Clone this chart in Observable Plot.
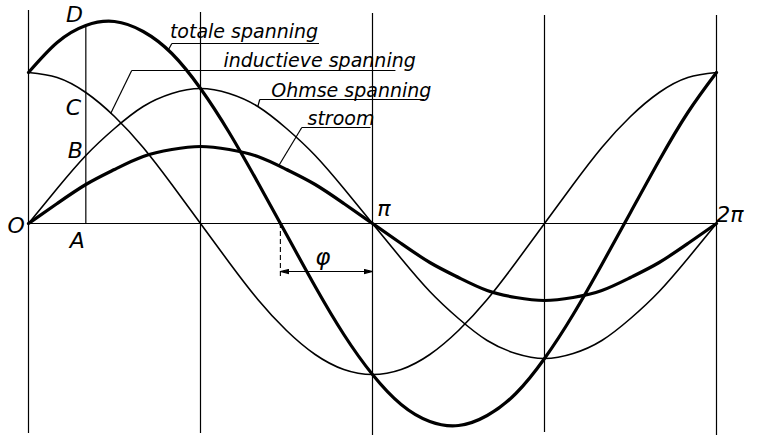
<!DOCTYPE html>
<html>
<head>
<meta charset="utf-8">
<script src="https://cdn.jsdelivr.net/npm/d3@7"></script>
<script src="https://cdn.jsdelivr.net/npm/@observablehq/plot@0.6"></script>
<style>
  html, body { margin: 0; padding: 0; background: white; }
  svg { display: block; }
</style>
</head>
<body>
<div id="chart"></div>
<script>
// angle in degrees (0 .. 2π)
const angles = [0,15,30,45,60,75,90,105,120,135,150,165,180,195,210,225,240,255,270,285,300,315,330,345,360];
// values (same vertical units for all curves)
const stroom     = [0,20,39,54,67,74,77,74,67,54,39,20,0,-20,-39,-54,-67,-74,-77,-74,-67,-54,-39,-20,0];
const ohmse      = [0,35,68,95,117,130,135,130,117,95,68,35,0,-35,-68,-95,-117,-130,-135,-130,-117,-95,-68,-35,0];
const inductief  = [151,146,131,107,76,39,0,-39,-76,-107,-131,-146,-151,-146,-131,-107,-76,-39,0,39,76,107,131,146,151];
const totaal     = [151,181,198,202,192,170,135,91,41,-11,-63,-111,-151,-181,-198,-202,-192,-170,-135,-91,-41,11,63,111,151];

// series labels with underline and leader line
const seriesLabels = ["totale spanning","inductieve spanning","Ohmse spanning","stroom"];
const labelX = [74, 102, 127, 146];
const labelY = [192, 163, 133, 105];
const underlineX1 = [75, 54, 121, 143];
const underlineX2 = [152, 192, 207, 179];
const underlineY = [180, 153, 124, 96];
const leaderX = [73, 43, 120, 131];
const leaderY = [173, 110, 117, 58];

// point labels
const pointLabels = ["O","A","B","C","D","π","2π"];
const pointX = [-6.5, 25.5, 24.5, 23.5, 24, 186, 367];
const pointY = [-2, -17, 73, 116, 209, 15, 9];

// vertical construction lines
const gridX = [0, 90, 180, 270, 360];
const gridTop = [213, 211, 210, 208, 208];
const gridBottom = [-210, -210, -212, -209, -212];
const lineA = 30;
const phiAngle = 131.8;
const phiArrowY = -48;
const phiDashBottom = -53;

const mk = (vals) => angles.map((a, i) => ({a, v: vals[i]}));
const labels = seriesLabels.map((t, i) => ({
  t, x: labelX[i], y: labelY[i], u1: underlineX1[i], u2: underlineX2[i], uy: underlineY[i], lx: leaderX[i], ly: leaderY[i]
}));
const points = pointLabels.map((t, i) => ({t, x: pointX[i], y: pointY[i]}));
const grid = gridX.map((x, i) => ({x, y1: gridBottom[i], y2: gridTop[i]}));
const totalAtA = totaal[angles.indexOf(lineA)];

function filledArrow(color) {
  const ns = "http://www.w3.org/2000/svg";
  const m = document.createElementNS(ns, "marker");
  m.setAttribute("viewBox", "-9 -3 9 6");
  m.setAttribute("markerWidth", 9);
  m.setAttribute("markerHeight", 6);
  m.setAttribute("markerUnits", "userSpaceOnUse");
  m.setAttribute("orient", "auto-start-reverse");
  m.setAttribute("refX", 0);
  m.setAttribute("refY", 0);
  const p = document.createElementNS(ns, "path");
  p.setAttribute("d", "M0,0L-9,-2.2L-9,2.2Z");
  p.setAttribute("fill", color);
  m.appendChild(p);
  return m;
}

const font = "DejaVu Sans";
const plot = Plot.plot({
  width: 757,
  height: 435,
  margin: 0,
  x: {domain: [0, 360], range: [28, 716], axis: null},
  y: {domain: [-200, 200], range: [423, 23], axis: null},
  style: {background: "white"},
  marks: [
    // construction lines
    Plot.ruleX(grid, {x: "x", y1: "y1", y2: "y2", stroke: "black", strokeWidth: 1.2}),
    Plot.ruleX([lineA], {x: d => d, y1: 0, y2: totalAtA, stroke: "black", strokeWidth: 1.2}),
    Plot.ruleY([0], {y: d => d, x1: 0, x2: 361, stroke: "black", strokeWidth: 1.2}),
    // phi marker
    Plot.ruleX([phiAngle], {x: d => d, y1: 0, y2: phiDashBottom, stroke: "black", strokeWidth: 1.1, strokeDasharray: "5,3"}),
    Plot.link([0], {x1: phiAngle, x2: 180, y1: phiArrowY, y2: phiArrowY, stroke: "black", strokeWidth: 1.1, markerStart: filledArrow, markerEnd: filledArrow}),
    // curves
    Plot.line(mk(inductief), {x: "a", y: "v", curve: "natural", stroke: "black", strokeWidth: 1.6}),
    Plot.line(mk(ohmse), {x: "a", y: "v", curve: "natural", stroke: "black", strokeWidth: 1.6}),
    Plot.line(mk(stroom), {x: "a", y: "v", curve: "natural", stroke: "black", strokeWidth: 3.2}),
    Plot.line(mk(totaal), {x: "a", y: "v", curve: "natural", stroke: "black", strokeWidth: 3.2}),
    // series labels
    Plot.link(labels, {x1: "u1", x2: "u2", y1: "uy", y2: "uy", stroke: "black", strokeWidth: 1.2}),
    Plot.link(labels, {x1: "u1", y1: "uy", x2: "lx", y2: "ly", stroke: "black", strokeWidth: 1.2}),
    Plot.text(labels, {x: "x", y: "y", text: "t", textAnchor: "start", lineAnchor: "middle", fontFamily: font, fontStyle: "italic", fontSize: 19, fill: "black"}),
    // point labels
    Plot.text(points, {x: "x", y: "y", text: "t", textAnchor: "middle", lineAnchor: "middle", fontFamily: font, fontStyle: "italic", fontSize: 22, fill: "black"}),
    Plot.text(["φ"], {x: 154, y: -34, text: d => d, textAnchor: "middle", lineAnchor: "middle", fontFamily: font, fontStyle: "italic", fontSize: 23, fill: "black"})
  ]
});
document.getElementById("chart").appendChild(plot);
</script>
</body>
</html>
